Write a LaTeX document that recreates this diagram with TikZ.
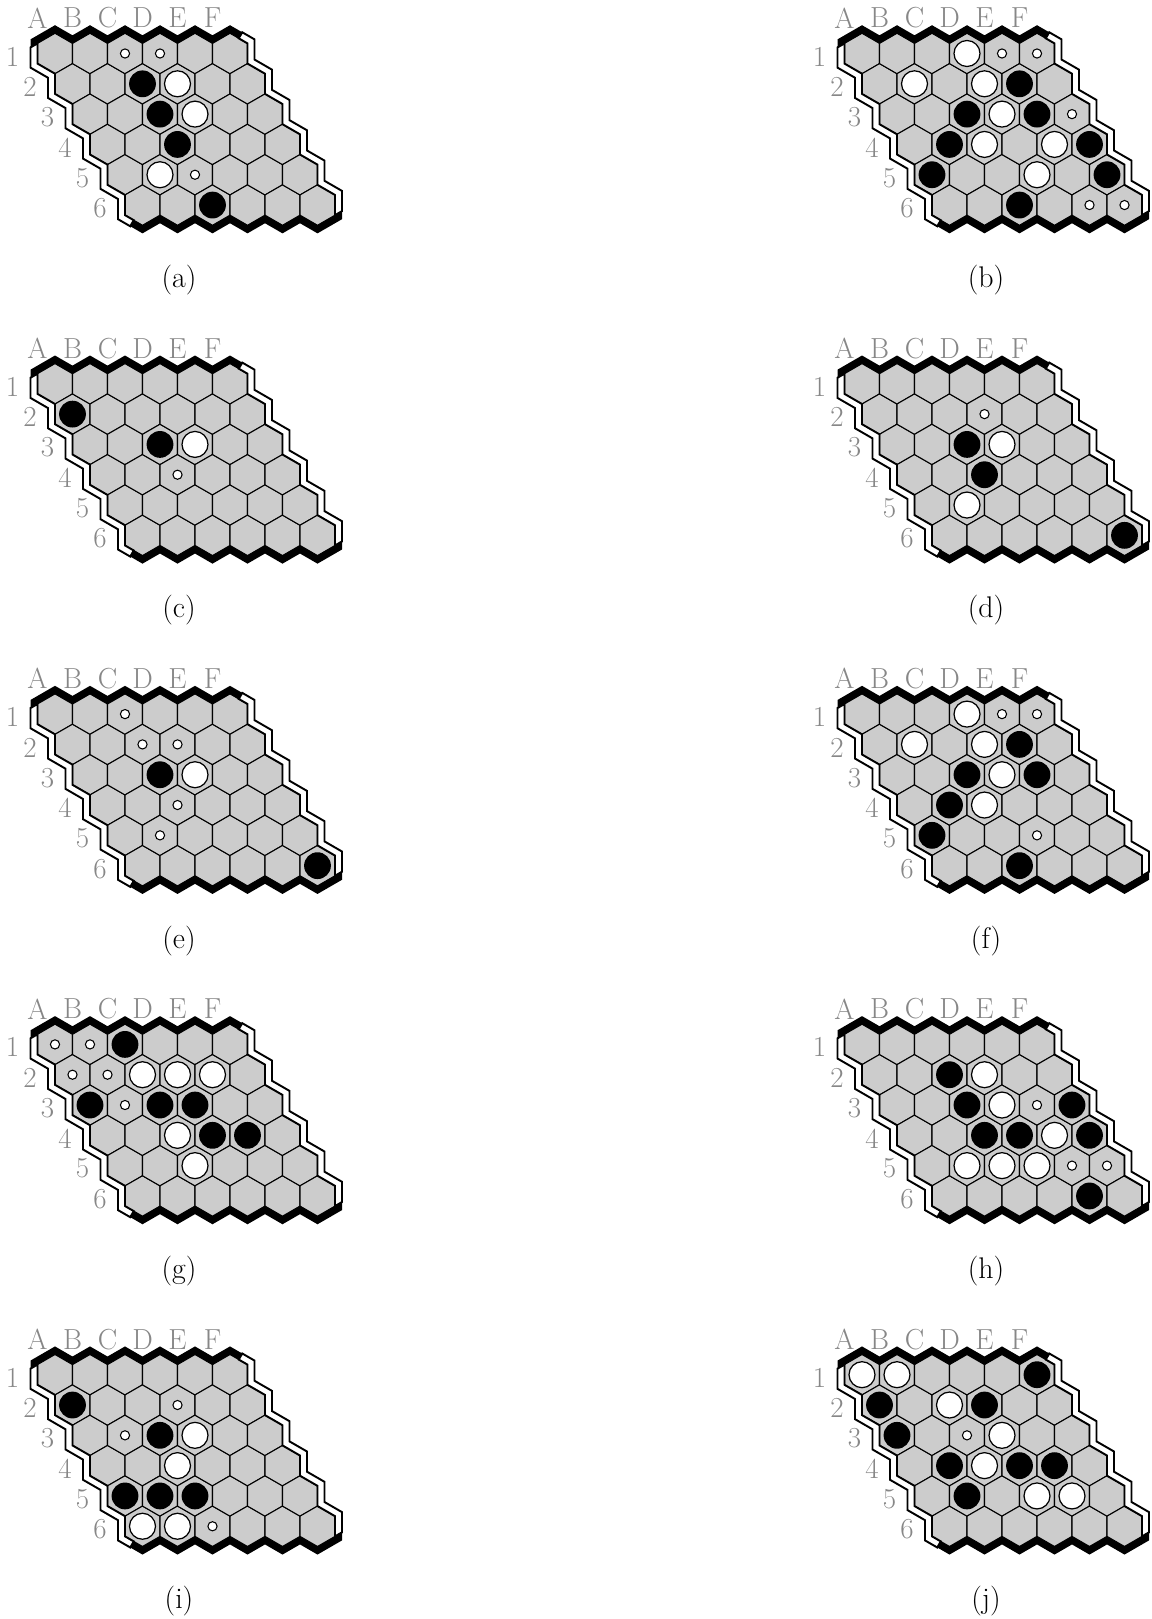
\documentclass[tikz,border=0pt]{standalone}
\usepackage{tikz}
\definecolor{cellgray}{HTML}{CCCCCC}
\definecolor{labelgray}{HTML}{878787}
\tikzset{
  cell/.style={fill=cellgray, draw=black, line width=0.6pt},
  sideband/.style={fill=white, draw=black, line width=1.1pt},
  edgeband/.style={fill=black},
  blackstone/.style={fill=black},
  whitestone/.style={fill=white, draw=black, line width=0.7pt},
  markdot/.style={fill=white, draw=black, line width=0.6pt},
  collabel/.style={text=labelgray, font=\fontsize{16.5}{19}\selectfont, inner sep=0pt},
  rowlabel/.style={text=labelgray, font=\fontsize{16.5}{19}\selectfont, inner sep=0pt},
  subcap/.style={font=\fontsize{17}{20}\selectfont, inner sep=0pt},
}

% #1 origin (centre of A1), #2 tag, #3 black, #4 white, #5 small dots (column/row)
\newcommand{\hexboard}[5]{%
\begin{scope}[shift={#1}]
  % ---- cells ----
  \foreach \cx in {1,...,6}
    \foreach \ry in {1,...,6}
      \draw[cell] ({35*(\cx-1)+17.5*(\ry-1)},{-30.31*(\ry-1)})
        +(90:20.21) -- +(150:20.21) -- +(210:20.21) -- +(270:20.21)
        -- +(330:20.21) -- +(30:20.21) -- cycle;
  % ---- stones ----
  \foreach \cx/\ry in {#3}
    \fill[blackstone] ({35*(\cx-1)+17.5*(\ry-1)},{-30.31*(\ry-1)}) circle[radius=13.4];
  \foreach \cx/\ry in {#4}
    \filldraw[whitestone] ({35*(\cx-1)+17.5*(\ry-1)},{-30.31*(\ry-1)}) circle[radius=13];
  \foreach \cx/\ry in {#5}
    \filldraw[markdot] ({35*(\cx-1)+17.5*(\ry-1)},{-30.31*(\ry-1)}) circle[radius=4.6];
  % ---- white sides ----
  \filldraw[sideband] (-17.5,10.10)
    \foreach \hy in {0,...,4}{ -- ({17.5*\hy-17.5},{-30.31*\hy-10.10}) -- ({17.5*\hy},{-30.31*\hy-20.21}) }
    -- (70,-161.65) -- (78.75,-166.70) -- (75.25,-172.76) -- (63,-165.69)
    \foreach \hy in {4,...,0}{ -- ({17.5*\hy-7},{-30.31*\hy-24.25}) -- ({17.5*\hy-24.5},{-30.31*\hy-14.14}) }
    -- (-24.5,6.06) -- cycle;
  \filldraw[sideband] (183.75,15.16)
    \foreach \hy in {0,...,5}{ -- ({192.5+17.5*\hy},{-30.31*\hy+10.10}) -- ({192.5+17.5*\hy},{-30.31*\hy-10.10}) }
    \foreach \hy in {5,...,0}{ -- ({199.5+17.5*\hy},{-30.31*\hy-6.06}) -- ({199.5+17.5*\hy},{-30.31*\hy+14.14}) }
    -- (187.25,21.22) -- cycle;
  % ---- black top / bottom ----
  \fill[edgeband] (-17.5,10.10)
    \foreach \hx in {0,...,4}{ -- ({35*\hx},20.21) -- ({35*\hx+17.5},10.10) }
    -- (175,20.21) -- (183.75,15.16) -- (187.25,21.22) -- (175,28.29)
    \foreach \hx in {4,...,0}{ -- ({35*\hx+17.5},18.18) -- ({35*\hx},28.29) }
    -- (-17.5,18.18) -- (-24.5,14.14) -- (-24.5,6.06) -- cycle;
  \fill[edgeband] (78.75,-166.70)
    \foreach \hx in {0,...,5}{ -- ({35*\hx+87.5},-171.76) -- ({35*\hx+105},-161.65) }
    -- (287,-157.61) -- (287,-165.69)
    \foreach \hx in {5,...,1}{ -- ({35*\hx+87.5},-179.84) -- ({35*\hx+70},-169.73) }
    -- (87.5,-179.84) -- (75.25,-172.76) -- cycle;
  % ---- labels ----
  \foreach \L [count=\cx from 0] in {A,B,C,D,E,F}
    \node[collabel] (#2-col\L) at ({35*\cx-17.5},35.5) {\L};
  \foreach \ry in {1,...,6}
    \node[rowlabel] (#2-row\ry) at ({17.5*\ry-60},{-30.31*\ry+27.31}) {\ry};
  \node[subcap] (#2-cap) at (124,-226.5) {(#2)};
\end{scope}}

\begin{document}
\begin{tikzpicture}[x=0.02cm, y=0.02cm]
\useasboundingbox (0,0) rectangle (1152,-1619);

% ---- row 1 ----
\hexboard{(55,-53.5)}{a}{3/2,3/3,3/4,3/6}{4/2,4/3,2/5}{3/1,4/1,3/5}
\hexboard{(862,-53.5)}{b}{5/2,3/3,5/3,2/4,6/4,1/5,6/5,3/6}{4/1,2/2,4/2,4/3,3/4,5/4,4/5}{5/1,6/1,6/3,5/6,6/6}

% ---- row 2 ----
\hexboard{(55,-383.8)}{c}{1/2,3/3}{4/3}{3/4}
\hexboard{(862,-383.8)}{d}{3/3,3/4,6/6}{4/3,2/5}{4/2}

% ---- row 3 ----
\hexboard{(55,-714.1)}{e}{3/3,6/6}{4/3}{3/1,3/2,4/2,3/4,2/5}
\hexboard{(862,-714.1)}{f}{5/2,3/3,5/3,2/4,1/5,3/6}{4/1,2/2,4/2,4/3,3/4}{5/1,6/1,4/5}

% ---- row 4 ----
\hexboard{(55,-1044.4)}{g}{3/1,1/3,3/3,4/3,4/4,5/4}{3/2,4/2,5/2,3/4,3/5}{1/1,2/1,1/2,2/2,2/3}
\hexboard{(862,-1044.4)}{h}{3/2,3/3,6/3,3/4,4/4,6/4,5/6}{4/2,4/3,5/4,2/5,3/5,4/5}{5/3,5/5,6/5}

% ---- row 5 ----
\hexboard{(55,-1374.7)}{i}{1/2,3/3,1/5,2/5,3/5}{4/3,3/4,1/6,2/6}{4/2,2/3,3/6}
\hexboard{(862,-1374.7)}{j}{6/1,1/2,4/2,1/3,2/4,4/4,5/4,2/5}{1/1,2/1,3/2,4/3,3/4,4/5,5/5}{3/3}

\end{tikzpicture}
\end{document}
